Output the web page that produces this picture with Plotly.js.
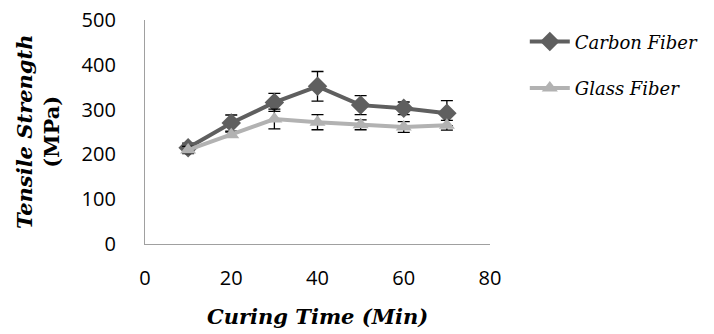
<!DOCTYPE html>
<html><head><meta charset="utf-8">
<script src="https://cdn.plot.ly/plotly-3.0.1.min.js"></script>
<style>body{margin:0;background:#fff}#c{width:714px;height:334px}</style>
</head><body><div id="c"></div>
<script>
const curingTime = [10, 20, 30, 40, 50, 60, 70];
const carbonStrength = [215, 270, 316, 352, 310, 303, 292];
const carbonError = [10, 18, 20, 33, 21, 14, 28];
const glassStrength = [210, 244, 279, 272, 266, 261, 265];
const glassError = [8, 6, 22, 17, 11, 12, 11];
const xTitle = 'Curing Time (Min)';
const yTitle = 'Tensile Strength';
const yUnit = '(MPa)';

const traces = [
  {x: curingTime, y: carbonStrength, name: 'Carbon Fiber', legendgroup: 'a', type: 'scatter', mode: 'lines+markers',
   line: {color: '#5f5f5f', width: 4}, marker: {symbol: 'diamond', size: 15, color: '#5f5f5f'},
   error_y: {type: 'data', array: carbonError, visible: true, color: '#000', thickness: 1.3, width: 6}},
  {x: curingTime, y: glassStrength, name: 'Glass Fiber', legendgroup: 'b', type: 'scatter', mode: 'lines+markers',
   line: {color: '#b2b2b2', width: 4}, marker: {symbol: 'triangle-up', size: 14, color: '#b2b2b2'},
   error_y: {type: 'data', array: glassError, visible: true, color: '#000', thickness: 1.3, width: 6}}
];

const titleFont = {family: 'DejaVu Serif', size: 21, color: '#000', weight: 'bold', style: 'italic'};
const layout = {
  width: 714, height: 334,
  margin: {l: 145, r: 224, t: 20, b: 90},
  paper_bgcolor: '#fff', plot_bgcolor: '#fff',
  showlegend: true,
  legend: {xref: 'container', yref: 'container', x: 0.735, y: 0.93, xanchor: 'left', yanchor: 'top',
    font: {family: 'DejaVu Serif', size: 18, color: '#000', style: 'italic'}, tracegroupgap: 20, itemwidth: 40},
  xaxis: {range: [0, 80], tickvals: [0, 20, 40, 60, 80], showgrid: false, zeroline: false,
    showline: true, linecolor: '#a0a0a0', linewidth: 1.3,
    ticks: 'outside', ticklen: 16, tickcolor: 'rgba(0,0,0,0)',
    tickfont: {family: 'Open Sans', size: 20, color: '#000'}},
  yaxis: {range: [0, 500], tickvals: [0, 100, 200, 300, 400, 500], showgrid: false, zeroline: false,
    showline: true, linecolor: '#a0a0a0', linewidth: 1.3,
    ticks: 'outside', ticklen: 24, tickcolor: 'rgba(0,0,0,0)',
    tickfont: {family: 'Open Sans', size: 20, color: '#000'}},
  annotations: [
    {text: xTitle, xref: 'paper', yref: 'paper', x: 0.5, y: 0, yshift: -72, xanchor: 'center', yanchor: 'middle',
     showarrow: false, font: titleFont},
    {text: '<i>' + yTitle + '</i><br><span style="font-style:normal">' + yUnit + '</span>',
     xref: 'paper', yref: 'paper', x: 0, xshift: -107, y: 0.5, xanchor: 'center', yanchor: 'middle',
     textangle: -90, showarrow: false, font: titleFont}
  ]
};
Plotly.newPlot('c', traces, layout, {displayModeBar: false});
</script></body></html>
